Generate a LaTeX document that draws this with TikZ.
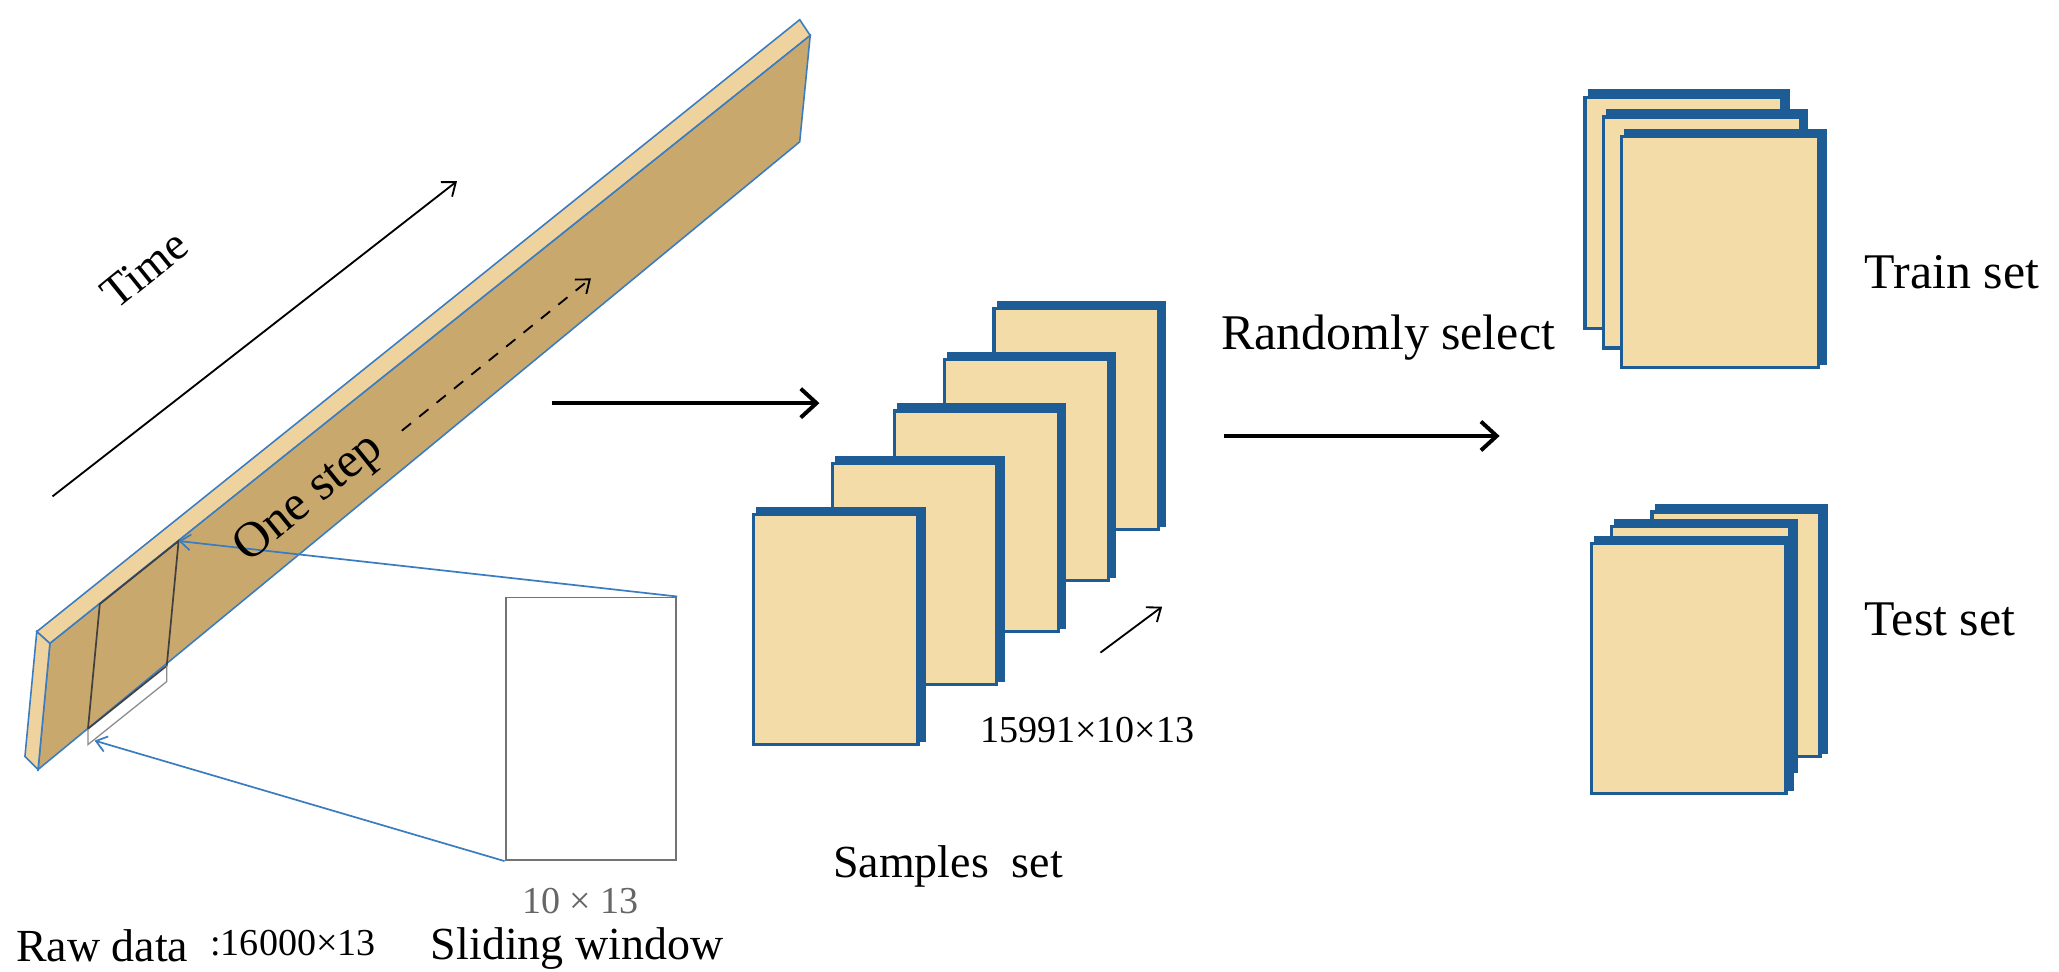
\documentclass[tikz,border=0pt]{standalone}
\usepackage{fontspec}
\setmainfont{Liberation Serif}
\usetikzlibrary{arrows.meta}
\definecolor{wood}{HTML}{C9A86E}
\definecolor{woodlt}{HTML}{EFD39E}
\definecolor{card}{HTML}{F4DCA8}
\definecolor{cardedge}{HTML}{1E5C96}
\definecolor{edgeb}{HTML}{3B7CC0}
\tikzset{
  txt/.style={font=\fontsize{35}{38}\selectfont, inner sep=0pt},
  big/.style={font=\fontsize{38}{40}\selectfont, inner sep=0pt},
  small/.style={font=\fontsize{29}{32}\selectfont, inner sep=0pt},
  bigarrow/.style={line width=3.2pt, -{Straight Barb[length=12pt,width=22pt,line width=3pt]}},
  thinarrow/.style={line width=1.4pt, -{Straight Barb[length=9pt,width=14pt]}},
  blue line/.style={edgeb, line width=1.3pt, -{Straight Barb[length=8pt,width=12pt]}},
}
\newcommand{\card}[4]{% x y w h
  \fill[cardedge] (#1+2,#2-6) rectangle (#1+#3+6,#2+#4-2);
  \draw[cardedge, line width=2.5pt, fill=card] (#1,#2) rectangle (#1+#3,#2+#4);
}
\begin{document}
\begin{tikzpicture}[x=1pt,y=-1pt]
\useasboundingbox (0,0) rectangle (1568,740);
% bar
\draw[edgeb, line width=1.2pt, fill=woodlt] (28,481) -- (609,15) -- (617,27) -- (38,490) -- cycle;
\draw[edgeb, line width=1.2pt, fill=wood] (38,490) -- (617,27) -- (609,108) -- (29,586) -- cycle;
\draw[edgeb, line width=1.2pt, fill=woodlt] (28,481) -- (38,490) -- (29,586) -- (19,576) -- cycle;
% window on bar
\coordinate (wtr) at (136,412);
\draw[black!75, line width=1.3pt] (76,460) -- (wtr) -- (127,507) -- (67,555) -- cycle;
\draw[black!45, line width=1pt] (127,507) -- (127,519) -- (67,567) -- (67,555);
% sliding window
\node[draw=black!55, line width=1.5pt, minimum width=130pt, minimum height=200pt, inner sep=0pt] (win) at (450,555) {};
\draw[blue line] (win.north east) -- (wtr);
\draw[blue line] (win.south west) -- (72,564);
\node[small, text=black!60] (dim) at (442,686) {10 × 13};
\node[txt, anchor=west] (slide) at (328,722) {Sliding window};
\node[txt, anchor=west] (raw) at (12,720) {Raw data};
\node[small, anchor=west] (rawdim) at (160,718) {:16000×13};
% time and one step
\coordinate (t1) at (40,378); \coordinate (t2) at (348,138);
\draw[thinarrow] (t1) -- (t2);
\node[txt, rotate=39] (time) at (110,205) {Time};
\node[big, rotate=39] (step) at (236,380) {One step};
\coordinate (s1) at (306,328); \coordinate (s2) at (450,212);
\draw[thinarrow, dash pattern=on 9pt off 8pt] (s1) -- (s2);
% arrow 1
\coordinate (a1) at (420,307); \coordinate (a2) at (624,307);
\draw[bigarrow] (a1) -- (a2);
% samples
\card{757}{235}{125}{168}
\card{719}{274}{125}{168}
\card{681}{313}{125}{168}
\card{634}{353}{125}{168}
\card{574}{392}{125}{175}
\coordinate (m1) at (838,497); \coordinate (m2) at (885,462);
\draw[thinarrow] (m1) -- (m2);
\node[small] (sdim) at (828,556) {15991×10×13};
\node[txt] (samp) at (722,660) {Samples\ \ set};
% arrow 2
\coordinate (b1) at (932,332); \coordinate (b2) at (1142,332);
\draw[bigarrow] (b1) -- (b2);
\node[big] (rand) at (1057,257) {Randomly select};
% train
\card{1207}{74}{150}{176}
\card{1221}{89}{150}{176}
\card{1235}{104}{150}{176}
\node[big, anchor=west] (train) at (1420,207) {Train set};
% test
\card{1258}{390}{128}{186}
\card{1227}{401}{136}{190}
\card{1212}{414}{148}{190}
\node[big, anchor=west] (test) at (1420,472) {Test set};
\end{tikzpicture}
\end{document}
